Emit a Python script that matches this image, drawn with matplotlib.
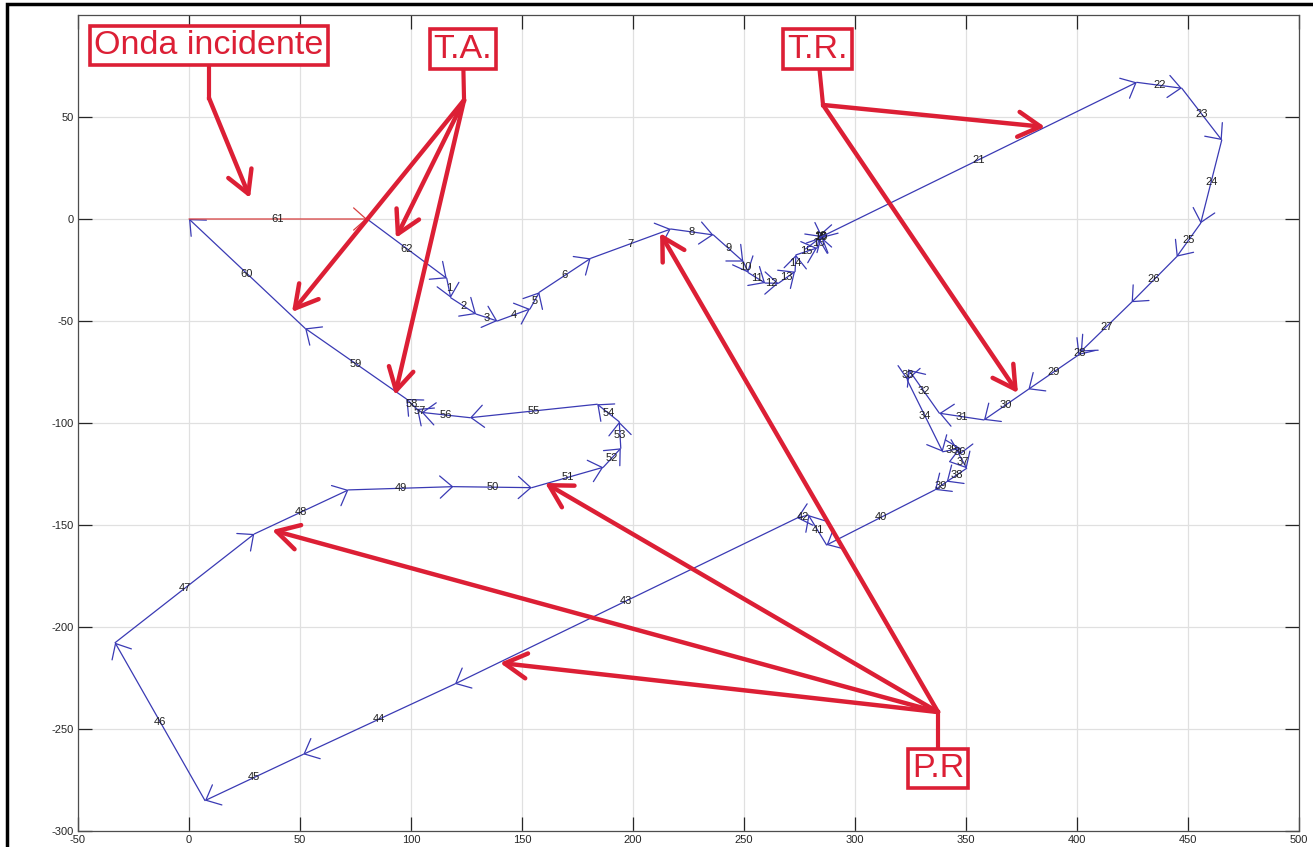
import numpy as np
import matplotlib
matplotlib.use('Agg')
import matplotlib.pyplot as plt
from matplotlib.patches import Rectangle

plt.rcParams['font.family'] = ['Liberation Sans', 'DejaVu Sans']
plt.rcParams['axes.unicode_minus'] = False

# tip of every phasor, indexed by its number 1..62
# phasor k starts where phasor k-1 ends (phasor 1 starts at the tip of 62)
tip_x = [117.9, 129.3, 138.9, 153.6, 157.8, 180.9, 217.0, 236.2, 249.7, 251.9,
         259.5, 265.5, 273.0, 273.4, 282.9, 283.8, 285.2, 283.4, 285.6, 284.7,
         426.9, 447.2, 465.2, 455.7, 444.9, 424.6, 401.7, 400.6, 378.1, 358.1,
         338.0, 324.2, 323.6, 339.5, 347.6, 347.0, 350.3, 341.3, 336.0, 287.2,
         279.0, 273.9, 119.8, 51.5, 7.2, -33.3, 29.4, 71.8, 119.1, 154.4,
         186.6, 194.5, 193.8, 183.9, 126.6, 104.8, 102.7, 97.9, 52.3, 0.0,
         80.2, 116.1]
tip_y = [-38.6, -46.6, -50.0, -44.1, -35.9, -19.3, -4.9, -7.8, -20.9, -26.3,
         -31.4, -31.5, -25.8, -17.6, -14.2, -9.3, -8.3, -8.3, -9.3, -8.8,
         67.0, 64.1, 38.7, -2.1, -18.5, -40.8, -65.0, -66.7, -83.5, -98.5,
         -95.2, -73.9, -79.1, -114.1, -112.4, -115.7, -122.2, -128.8, -132.8, -159.8,
         -145.1, -146.6, -227.9, -262.4, -285.1, -207.7, -154.4, -132.8, -131.2, -131.7,
         -121.7, -112.4, -99.4, -90.8, -97.4, -94.8, -93.1, -88.2, -53.6, 0.0,
         0.0, -29.1]
incident = 61   # the incoming wave, drawn in red

# callout boxes: text, box centre, stem end, arrow tips
callouts = [
    ('Onda incidente', (9.0, 85.0), (9.0, 59.3), [(27.5, 10.3)]),
    ('T.A.', (123.4, 83.3), (123.9, 58.3), [(46.4, -45.6), (93.2, -9.3), (92.8, -86.3)]),
    ('T.R.', (283.1, 83.3), (285.6, 55.9), [(385.6, 45.1), (373.4, -85.3)]),
    ('P.R', (337.4, -269.4), (337.4, -241.7), [(212.2, -6.9), (160.4, -129.4),
                                              (37.4, -152.5), (140.1, -217.6)]),
]

tip_x = np.array(tip_x)
tip_y = np.array(tip_y)
start_x = np.roll(tip_x, 1)
start_y = np.roll(tip_y, 1)

fig = plt.figure(figsize=(13.13, 8.47), dpi=100)
ax = fig.add_axes([78/1313, 16/847, 1221/1313, 816/847])
ax.set_xlim(-50, 500)
ax.set_ylim(-300, 100)

blue = '#3a3ab4'
for k in range(len(tip_x)):
    col = '#d84040' if k + 1 == incident else blue
    ax.annotate('', xy=(tip_x[k], tip_y[k]), xytext=(start_x[k], start_y[k]),
                arrowprops=dict(arrowstyle='->,head_length=0.9,head_width=0.8',
                                shrinkA=0, shrinkB=0, lw=0.9, color=col))
    ax.text((tip_x[k] + start_x[k]) / 2, (tip_y[k] + start_y[k]) / 2, str(k + 1),
            fontsize=8, ha='center', va='center', color='#202020')

ax.set_xticks(np.arange(-50, 501, 50))
ax.set_yticks(np.arange(-300, 51, 50))
ax.grid(True, color='#e0e0e0', lw=0.9)
ax.set_axisbelow(True)
ax.tick_params(direction='in', length=10, width=0.9, colors='#262626',
               labelsize=8, top=True, right=True, pad=3)
for s in ax.spines.values():
    s.set_color('#4d4d4d')
    s.set_linewidth(0.9)

red = '#dc1f35'
for label, box, stem, targets in callouts:
    ax.text(box[0], box[1], label, fontsize=24.5, color=red, ha='center', va='center',
            bbox=dict(boxstyle='square,pad=0.12', fc='white', ec=red, lw=2.6), zorder=5)
    ax.plot([box[0], stem[0]], [box[1], stem[1]], color=red, lw=3, zorder=4,
            clip_on=False)
    for t in targets:
        ax.annotate('', xy=t, xytext=stem,
                    arrowprops=dict(arrowstyle='->,head_length=1.6,head_width=0.9',
                                    shrinkA=0, shrinkB=0, lw=3.2, color=red),
                    zorder=4)

# black frame around the figure
fig.patches.append(Rectangle((7/1313, -0.05), 2, 1.05 - 4/847, transform=fig.transFigure,
                             fill=False, ec='black', lw=2.5))

fig.savefig('out.png', dpi=100)
